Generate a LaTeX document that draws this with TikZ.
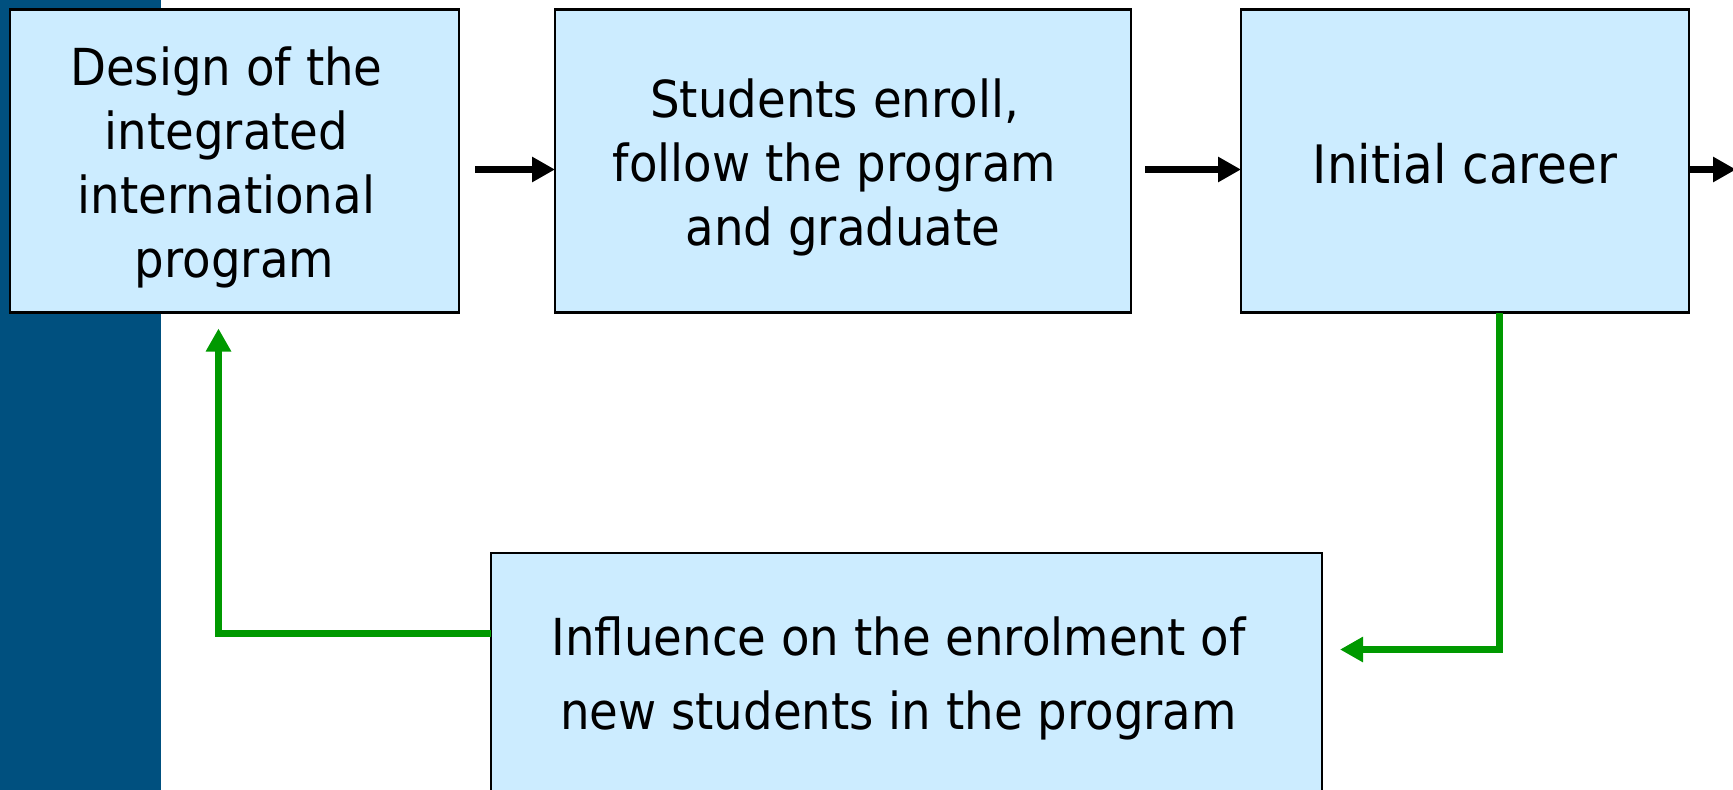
\documentclass[tikz,border=0pt]{standalone}
\usepackage{fontspec}
\setmainfont{DejaVu Sans}[FakeStretch=0.915]
\usetikzlibrary{arrows.meta}
\definecolor{boxfill}{HTML}{CCECFF}
\definecolor{sidebar}{HTML}{00507F}
\definecolor{flowgreen}{HTML}{009900}
% a centred line whose text is moved left by half of #1
\newcommand{\shiftline}[2]{\hbox to 0pt{\hss#2\kern#1\hss}}
\begin{document}
\begin{tikzpicture}[x=1pt,y=-1pt,
  boxnode/.style={draw=black,line width=2.2pt,fill=boxfill,inner sep=0pt,outer sep=0pt},
  boxtext/.style={align=center,inner sep=0pt,anchor=base,font=\fontsize{51}{64}\selectfont},
  blackarrow/.style={line width=7pt,draw=black,-{Triangle[length=23pt,width=24pt]}},
  greenarrow/.style={line width=7pt,draw=flowgreen,-{Triangle[length=23pt,width=24pt]}}]
\useasboundingbox (0,0) rectangle (1733,790);
\fill[sidebar] (0,0) rectangle (161,790);
% boxes
\node[boxnode,minimum width=449pt,minimum height=303pt] (b1) at (234.5,161) {};
\node[boxnode,minimum width=576pt,minimum height=303pt] (b2) at (843,161) {};
\node[boxnode,minimum width=448pt,minimum height=303pt] (b3) at (1465,161) {};
\node[boxnode,minimum width=831pt,minimum height=300pt] (b4) at (906.5,703) {};
% texts (base anchor = baseline of the last line)
\node[boxtext] (t1) at (234.5,277) {\shiftline{16pt}{Design of the}\\\shiftline{16pt}{integrated}\\\shiftline{16pt}{international}\\\shiftline{0pt}{program}};
\node[boxtext] (t2) at (843,245) {\shiftline{17pt}{Students enroll,}\\\shiftline{17pt}{follow the program}\\\shiftline{0pt}{and graduate}};
\node[boxtext,font=\fontsize{53}{64}\selectfont] (t3) at (1465,183) {Initial career};
\node[boxtext,font=\fontsize{51}{74}\selectfont] (t4) at (898.5,729) {Influence on the enrolment of\\new students in the program};
% coordinates for free ends
\coordinate (a3end) at (1736,169.5);
\coordinate (g1tip) at (1340,649.5);
% black arrows
\draw[blackarrow] ([xshift=16pt,yshift=-8.5pt]b1.east) -- ([yshift=-8.5pt]b2.west);
\draw[blackarrow] ([xshift=14pt,yshift=-8.5pt]b2.east) -- ([yshift=-8.5pt]b3.west);
\draw[blackarrow] ([yshift=-8.5pt]b3.east) -- (a3end);
% green feedback arrows
\draw[greenarrow] ([xshift=34.5pt]b3.south) |- (g1tip);
\coordinate (g2tip) at ([xshift=-16pt,yshift=-16pt]b1.south);
\draw[greenarrow] (b4.west |- 0,633) -| (g2tip);
\end{tikzpicture}
\end{document}
